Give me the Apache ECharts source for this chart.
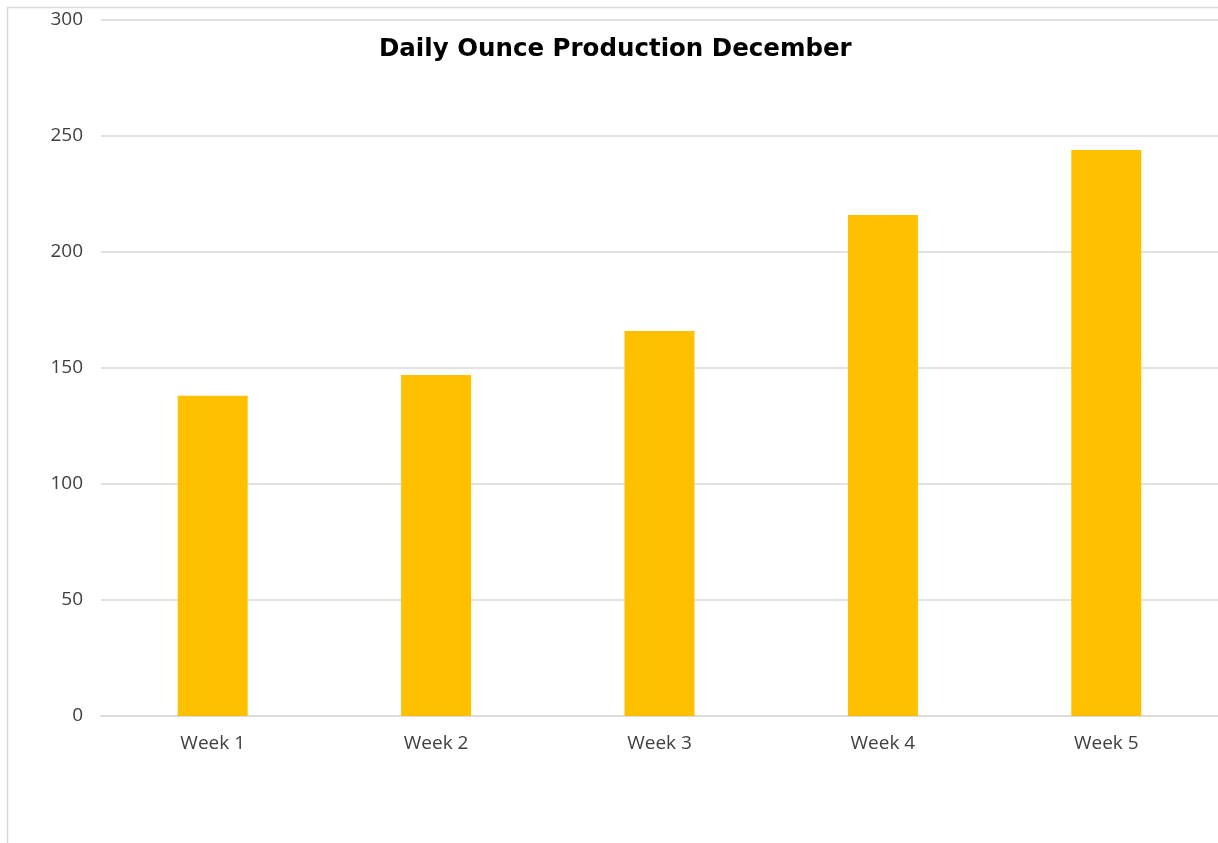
<!DOCTYPE html>
<html>
<head>
<meta charset="utf-8">
<script src="https://cdn.jsdelivr.net/npm/echarts@6/dist/echarts.min.js"></script>
<style>html,body{margin:0;padding:0;background:#fff}#c{width:1218px;height:843px}</style>
</head>
<body>
<div id="c"></div>
<script>
const categories = ['Week 1', 'Week 2', 'Week 3', 'Week 4', 'Week 5'];
const values = [138, 147, 166, 216, 244];
const yTicks = [0, 50, 100, 150, 200, 250, 300];

const chart = echarts.init(document.getElementById('c'));
chart.setOption({
  animation: false,
  graphic: [{
    type: 'rect', shape: { x: 7.5, y: 7.5, width: 1300, height: 900 },
    style: { fill: 'none', stroke: '#d9d9d9', lineWidth: 1.5 }, silent: true, z: -1
  }],
  title: {
    text: 'Daily Ounce Production December', left: 379, top: 37,
    padding: 0,
    textStyle: { fontFamily: 'DejaVu Sans', fontWeight: 'bold', fontSize: 24.5, color: '#000' }
  },
  grid: { left: 101, right: -3, top: 20, bottom: 127, containLabel: false },
  xAxis: {
    type: 'category', data: categories,
    axisLine: { lineStyle: { color: '#d9d9d9', width: 1.5 } },
    axisTick: { show: false },
    axisLabel: { color: '#404040', fontFamily: 'Open Sans', fontSize: 19, margin: 18 }
  },
  yAxis: {
    type: 'value', min: yTicks[0], max: yTicks[yTicks.length - 1], interval: 50,
    axisLine: { show: false }, axisTick: { show: false },
    splitLine: { lineStyle: { color: '#d9d9d9', width: 1.5 } },
    axisLabel: { color: '#404040', fontFamily: 'Open Sans', fontSize: 19, margin: 18 }
  },
  series: [{
    type: 'bar', data: values, barWidth: 70,
    itemStyle: { color: '#ffc000' }
  }]
});
</script>
</body>
</html>
